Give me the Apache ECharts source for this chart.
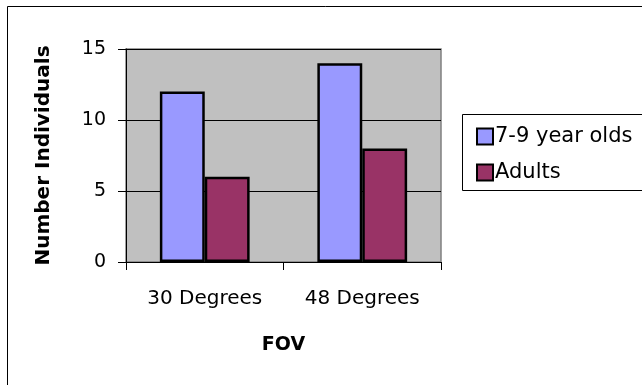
<!DOCTYPE html>
<html>
<head>
<meta charset="utf-8">
<script src="https://cdn.jsdelivr.net/npm/echarts@6/dist/echarts.min.js"></script>
<style>
  html, body { margin: 0; padding: 0; background: #fff; }
  #chart { width: 642px; height: 385px; }
</style>
</head>
<body>
<div id="chart"></div>
<script>
// Field-of-view groups and counts per age group
const categories = ['30 Degrees', '48 Degrees'];
const childCounts = [12, 14];
const adultCounts = [6, 8];
const seriesNames = ['7-9 year olds', 'Adults'];
const yTicks = { min: 0, max: 15, step: 5 };

const FONT = 'DejaVu Sans';
const chart = echarts.init(document.getElementById('chart'), null, { renderer: 'canvas' });

chart.setOption({
  backgroundColor: '#ffffff',
  animation: false,
  textStyle: { fontFamily: FONT },
  graphic: [
    // outer chart frame
    { type: 'rect', shape: { x: 7.5, y: 6.5, width: 700, height: 500 },
      style: { fill: 'none', stroke: '#000', lineWidth: 1 }, z: -1 },
    // legend frame
    { type: 'rect', shape: { x: 462.5, y: 114.5, width: 220, height: 76 },
      style: { fill: '#fff', stroke: '#000', lineWidth: 1 }, z: 1 }
  ],
  legend: {
    orient: 'vertical',
    left: 471,
    top: 121,
    itemWidth: 16,
    itemHeight: 16,
    itemGap: 15,
    icon: 'rect',
    z: 5,
    textStyle: { fontFamily: FONT, fontSize: 21, color: '#000', padding: [0, 0, 0, -3] },
    data: seriesNames.map(n => ({ name: n, itemStyle: { borderColor: '#000', borderWidth: 2 } }))
  },
  grid: {
    left: 126, right: 201, top: 49, bottom: 123,
    show: true, backgroundColor: '#c0c0c0', borderColor: '#808080', borderWidth: 1.5
  },
  xAxis: {
    type: 'category',
    data: categories,
    name: 'FOV',
    nameLocation: 'middle',
    nameGap: 74,
    nameTextStyle: { fontFamily: FONT, fontSize: 19, fontWeight: 'bold', color: '#000' },
    axisLine: { lineStyle: { color: '#000', width: 1 } },
    axisTick: { show: true, length: 8, lineStyle: { color: '#000' } },
    axisLabel: { margin: 27, fontFamily: FONT, fontSize: 20, color: '#000' },
    splitLine: { show: false }
  },
  yAxis: {
    type: 'value',
    min: yTicks.min, max: yTicks.max, interval: yTicks.step,
    name: 'Number Individuals',
    nameLocation: 'middle',
    nameGap: 72,
    nameTextStyle: { fontFamily: FONT, fontSize: 20, fontWeight: 'bold', color: '#000' },
    axisLine: { show: true, lineStyle: { color: '#000', width: 1 } },
    axisTick: { show: true, length: 8, lineStyle: { color: '#000' } },
    axisLabel: { margin: 20, fontFamily: FONT, fontSize: 19, color: '#000' },
    splitLine: { show: true, lineStyle: { color: '#000', width: 1 } }
  },
  series: [
    {
      name: seriesNames[0], type: 'bar', data: childCounts,
      barGap: '0%', barCategoryGap: '43%',
      itemStyle: { color: '#9999ff', borderColor: '#000', borderWidth: 2.5 }
    },
    {
      name: seriesNames[1], type: 'bar', data: adultCounts,
      barGap: '0%', barCategoryGap: '43%',
      itemStyle: { color: '#993366', borderColor: '#000', borderWidth: 2.5 }
    }
  ]
});
</script>
</body>
</html>
